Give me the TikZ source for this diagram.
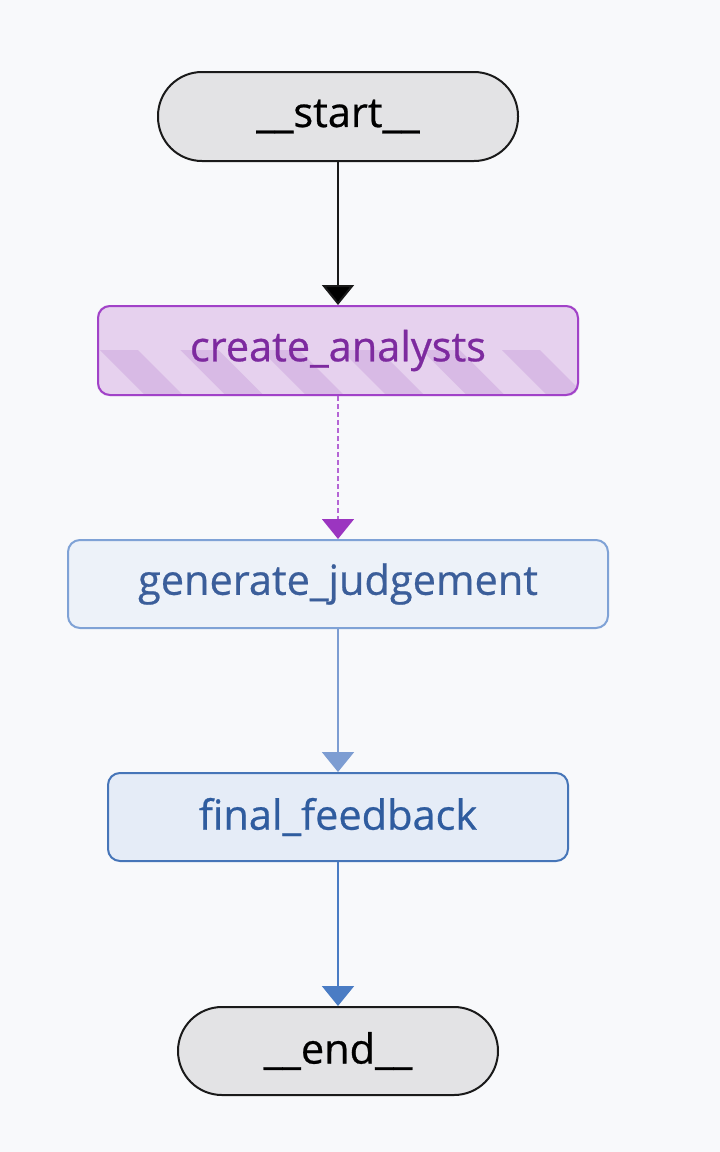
\documentclass[tikz,border=0pt]{standalone}
\usepackage{fontspec}
\setmainfont{Open Sans}
\newfontfamily\lblfont[FakeBold=0.6]{Open Sans}
\usetikzlibrary{arrows.meta,backgrounds}
\definecolor{bg}{HTML}{F8F9FB}
\definecolor{sefill}{HTML}{E3E3E5}
\definecolor{seline}{HTML}{1A1A1A}
\definecolor{cafill}{HTML}{E6D1EE}
\definecolor{castripe}{HTML}{D8BAE5}
\definecolor{caline}{HTML}{A142C8}
\definecolor{catext}{HTML}{7D2A9F}
\definecolor{cadash}{HTML}{B565D5}
\definecolor{cahead}{HTML}{9B35C0}
\definecolor{gjfill}{HTML}{EDF2F9}
\definecolor{gjline}{HTML}{7FA2D6}
\definecolor{gjtext}{HTML}{3B5E9A}
\definecolor{gjarrow}{HTML}{7D9DD2}
\definecolor{fffill}{HTML}{E5ECF7}
\definecolor{ffline}{HTML}{4675B8}
\definecolor{fftext}{HTML}{2F5C9F}
\definecolor{ffarrow}{HTML}{4A7CC4}
\tikzset{
  lbl/.style={font=\lblfont\fontsize{41.5}{48}\selectfont, inner sep=0pt},
  terminal/.style={lbl, draw=seline, fill=sefill, line width=2pt, rounded corners=44pt, text=black},
  stepbox/.style={lbl, line width=2pt, rounded corners=12pt},
  flow/.style={line width=2pt, -{Triangle[width=32pt,length=20pt]}},
}
\begin{document}
\begin{tikzpicture}[x=1pt,y=-1pt]
\useasboundingbox (0,0) rectangle (720,1152);

\node[terminal, minimum width=360pt, minimum height=89pt] (start) at (338,116.5) {\_\_start\_\_};

\node[stepbox, draw=caline, text=catext, minimum width=480pt, minimum height=89pt] (ca) at (338,350.5) {\raisebox{-2pt}{create\_analysts}};

\node[stepbox, draw=gjline, fill=gjfill, text=gjtext, minimum width=540pt, minimum height=88pt] (gj) at (338,584) {\raisebox{-2pt}{generate\_judgement}};

\node[stepbox, draw=ffline, fill=fffill, text=fftext, minimum width=460pt, minimum height=88pt] (ff) at (338,817) {\raisebox{-2pt}{final\_feedback}};

\node[terminal, minimum width=320pt, minimum height=88pt] (end) at (338,1051) {\_\_end\_\_};

\begin{scope}[on background layer]
  \fill[bg] (0,0) rectangle (720,1152);
  \fill[cafill, rounded corners=12pt] (ca.north west) rectangle (ca.south east);
  \begin{scope}
    \clip[rounded corners=12pt] (ca.north west) rectangle (ca.south east);
    \foreach \k in {-1,...,6}{
      \pgfmathsetmacro{\xa}{100+80.4*\k}
      \fill[castripe] (\xa,350) -- (\xa+38,350) -- (\xa+83,395) -- (\xa+45,395) -- cycle;
    }
  \end{scope}
\end{scope}

\draw[flow, draw=seline, -{Triangle[width=32pt,length=20pt,fill=black]}] (start) -- (ca);
\draw[line width=1.6pt, draw=cadash, dash pattern=on 5pt off 3pt, -{Triangle[width=32pt,length=20pt,fill=cahead,color=cahead]}] (ca) -- (gj);
\draw[flow, draw=gjarrow] (gj) -- (ff);
\draw[flow, draw=ffarrow] (ff) -- (end);
\end{tikzpicture}
\end{document}
